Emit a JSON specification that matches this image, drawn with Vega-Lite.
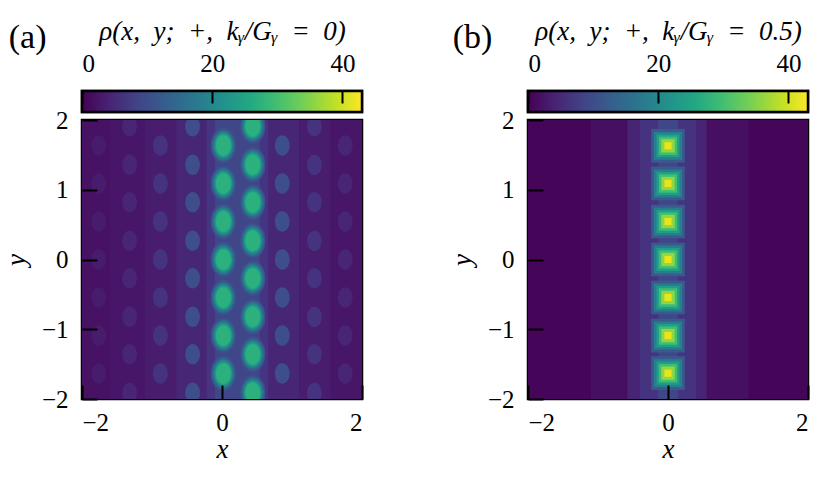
{
  "$schema": "https://vega.github.io/schema/vega-lite/v6.json",
  "background": "white",
  "padding": {"left": 1, "top": 15, "right": 5, "bottom": 5},
  "config": {
    "font": "Liberation Serif",
    "view": {"stroke": "black", "strokeWidth": 2.5},
    "axis": {
      "labelFont": "Liberation Serif",
      "labelFontSize": 25,
      "labelColor": "black",
      "titleFont": "Liberation Serif",
      "titleFontSize": 27,
      "titleFontWeight": "normal",
      "titleFontStyle": "italic",
      "titleColor": "black",
      "grid": false,
      "domain": false,
      "tickColor": "black",
      "tickWidth": 2,
      "format": "d"
    },
    "title": {"font": "Liberation Serif", "fontWeight": "normal", "color": "black"}
  },
  "datasets": {
    "a_bands": [
      {"x0": -2, "x1": 2, "rho": 1.8},
      {"x0": -1.6, "x1": 2, "rho": 2.4},
      {"x0": -1.1, "x1": 1.55, "rho": 3.2},
      {"x0": -0.65, "x1": 1.1, "rho": 4.4},
      {"x0": -0.22, "x1": 0.66, "rho": 6.5},
      {"x0": -0.1, "x1": 0.54, "rho": 9}
    ],
    "a_faint": [
      {"x": -1.76, "y": [-1.635, -1.09, -0.545, 0, 0.545, 1.09, 1.635], "rho": 3.1},
      {"x": -1.32, "y": [-1.91, -1.36, -0.82, -0.27, 0.27, 0.82, 1.36, 1.91], "rho": 4.3},
      {"x": -0.88, "y": [-1.635, -1.09, -0.545, 0, 0.545, 1.09, 1.635], "rho": 6.2},
      {"x": -0.42, "y": [-1.91, -1.36, -0.82, -0.27, 0.27, 0.82, 1.36, 1.91], "rho": 10},
      {"x": 0.86, "y": [-1.635, -1.09, -0.545, 0, 0.545, 1.09, 1.635], "rho": 10},
      {"x": 1.32, "y": [-1.91, -1.36, -0.82, -0.27, 0.27, 0.82, 1.36, 1.91], "rho": 6.2},
      {"x": 1.76, "y": [-1.635, -1.09, -0.545, 0, 0.545, 1.09, 1.635], "rho": 4.3}
    ],
    "a_spots": [
      {"x": 0.02, "y": -1.635, "rho": [10.5, 14, 18, 22, 25, 27.5]},
      {"x": 0.02, "y": -1.09, "rho": [10.5, 14, 18, 22, 25, 27.5]},
      {"x": 0.02, "y": -0.545, "rho": [10.5, 14, 18, 22, 25, 27.5]},
      {"x": 0.02, "y": 0, "rho": [10.5, 14, 18, 22, 25, 27.5]},
      {"x": 0.02, "y": 0.545, "rho": [10.5, 14, 18, 22, 25, 27.5]},
      {"x": 0.02, "y": 1.09, "rho": [10.5, 14, 18, 22, 25, 27.5]},
      {"x": 0.02, "y": 1.635, "rho": [10.5, 14, 18, 22, 25, 27.5]},
      {"x": 0.44, "y": -1.91, "rho": [10.5, 14, 18, 22, 25, 27.5]},
      {"x": 0.44, "y": -1.36, "rho": [10.5, 14, 18, 22, 25, 27.5]},
      {"x": 0.44, "y": -0.82, "rho": [10.5, 14, 18, 22, 25, 27.5]},
      {"x": 0.44, "y": -0.27, "rho": [10.5, 14, 18, 22, 25, 27.5]},
      {"x": 0.44, "y": 0.27, "rho": [10.5, 14, 18, 22, 25, 27.5]},
      {"x": 0.44, "y": 0.82, "rho": [10.5, 14, 18, 22, 25, 27.5]},
      {"x": 0.44, "y": 1.36, "rho": [10.5, 14, 18, 22, 25, 27.5]},
      {"x": 0.44, "y": 1.91, "rho": [10.5, 14, 18, 22, 25, 27.5]}
    ],
    "b_bands": [
      {"x0": -2, "x1": 2, "rho": 0.6},
      {"x0": -1.1, "x1": 1.15, "rho": 1.5},
      {"x0": -0.58, "x1": 0.55, "rho": 4.2},
      {"x0": -0.4, "x1": 0.4, "rho": 6.2},
      {"x0": -0.14, "x1": 0.14, "rho": 9}
    ],
    "b_spots": [
      {"x": 0, "y": -1.63, "rho": [12, 18, 24, 30, 36, 41.5]},
      {"x": 0, "y": -1.09, "rho": [12, 18, 24, 30, 36, 41.5]},
      {"x": 0, "y": -0.545, "rho": [12, 18, 24, 30, 36, 41.5]},
      {"x": 0, "y": 0, "rho": [12, 18, 24, 30, 36, 41.5]},
      {"x": 0, "y": 0.545, "rho": [12, 18, 24, 30, 36, 41.5]},
      {"x": 0, "y": 1.09, "rho": [12, 18, 24, 30, 36, 41.5]},
      {"x": 0, "y": 1.63, "rho": [12, 18, 24, 30, 36, 41.5]}
    ],
    "bar": [{"lo": 0, "hi": 43}]
  },
  "spacing": 82,
  "hconcat": [
    {
      "spacing": 8,
      "bounds": "flush",
      "vconcat": [
        {
          "width": 280,
          "height": 21,
          "title": {"text": "(a)", "anchor": "start", "fontSize": 34, "dx": -72, "dy": 42},
          "data": {"name": "bar"},
          "mark": {
            "type": "rect",
            "stroke": "black",
            "strokeWidth": 2.5,
            "color": {
              "gradient": "linear",
              "stops": [
                {"offset": 0, "color": "#440154"},
                {"offset": 0.1, "color": "#482475"},
                {"offset": 0.2, "color": "#414487"},
                {"offset": 0.3, "color": "#355f8d"},
                {"offset": 0.4, "color": "#2a788e"},
                {"offset": 0.5, "color": "#21918c"},
                {"offset": 0.6, "color": "#22a884"},
                {"offset": 0.7, "color": "#44bf70"},
                {"offset": 0.8, "color": "#7ad151"},
                {"offset": 0.9, "color": "#bddf26"},
                {"offset": 1, "color": "#fde725"}
              ]
            }
          },
          "encoding": {
            "x": {
              "field": "lo",
              "type": "quantitative",
              "scale": {"domain": [0, 43], "nice": false},
              "axis": {
                "orient": "top",
                "zindex": 2,
                "values": [0, 20, 40],
                "offset": -12,
                "tickSize": 12,
                "labelPadding": 15,
                "title": "ρ(x,\u2002y;\u2002+,\u2002kᵧ/Gᵧ\u2002=\u20020)",
                "titleFontSize": 27,
                "titlePadding": 6
              }
            },
            "x2": {"field": "hi"}
          }
        },
        {
          "width": 280,
          "height": 279,
          "layer": [
            {
              "data": {"name": "a_bands"},
              "mark": {"type": "rect"},
              "encoding": {
                "x": {
                  "field": "x0",
                  "type": "quantitative",
                  "scale": {"domain": [-2, 2], "nice": false},
                  "axis": {"zindex": 2, "values": [-2, 0, 2], "offset": -14, "tickSize": 14, "labelPadding": 11, "title": "x", "titlePadding": 1}
                },
                "x2": {"field": "x1"},
                "color": {"field": "rho", "type": "quantitative", "scale": {"scheme": "viridis", "domain": [0, 43]}, "legend": null}
              }
            },
            {
              "data": {"name": "a_faint"},
              "transform": [{"flatten": ["y"]}],
              "mark": {"type": "point", "filled": true, "opacity": 1, "clip": true, "size": 420, "shape": "M0,-1 A0.72,1 0 1,1 0,1 A0.72,1 0 1,1 0,-1 Z"},
              "encoding": {
                "x": {"field": "x", "type": "quantitative"},
                "y": {
                  "field": "y",
                  "type": "quantitative",
                  "scale": {"domain": [-2, 2], "nice": false},
                  "axis": {"zindex": 2, "values": [-2, -1, 0, 1, 2], "offset": -15, "tickSize": 15, "labelPadding": 14, "title": "y", "titlePadding": 11}
                },
                "color": {"field": "rho", "type": "quantitative"}
              }
            },
            {
              "data": {"name": "a_spots"},
              "transform": [{"flatten": ["rho"]}],
              "mark": {"type": "point", "filled": true, "opacity": 1, "clip": true, "shape": "M0,-1 A0.72,1 0 1,1 0,1 A0.72,1 0 1,1 0,-1 Z"},
              "encoding": {
                "x": {"field": "x", "type": "quantitative"},
                "y": {"field": "y", "type": "quantitative"},
                "color": {"field": "rho", "type": "quantitative"},
                "size": {"field": "rho", "type": "quantitative", "scale": {"type": "log", "domain": [10, 28.5], "range": [1296, 0]}, "legend": null},
                "order": {"field": "rho", "type": "quantitative"}
              }
            }
          ]
        }
      ]
    },
    {
      "spacing": 8,
      "bounds": "flush",
      "vconcat": [
        {
          "width": 280,
          "height": 21,
          "title": {"text": "(b)", "anchor": "start", "fontSize": 34, "dx": -74, "dy": 42},
          "data": {"name": "bar"},
          "mark": {
            "type": "rect",
            "stroke": "black",
            "strokeWidth": 2.5,
            "color": {
              "gradient": "linear",
              "stops": [
                {"offset": 0, "color": "#440154"},
                {"offset": 0.1, "color": "#482475"},
                {"offset": 0.2, "color": "#414487"},
                {"offset": 0.3, "color": "#355f8d"},
                {"offset": 0.4, "color": "#2a788e"},
                {"offset": 0.5, "color": "#21918c"},
                {"offset": 0.6, "color": "#22a884"},
                {"offset": 0.7, "color": "#44bf70"},
                {"offset": 0.8, "color": "#7ad151"},
                {"offset": 0.9, "color": "#bddf26"},
                {"offset": 1, "color": "#fde725"}
              ]
            }
          },
          "encoding": {
            "x": {
              "field": "lo",
              "type": "quantitative",
              "scale": {"domain": [0, 43], "nice": false},
              "axis": {
                "orient": "top",
                "zindex": 2,
                "values": [0, 20, 40],
                "offset": -12,
                "tickSize": 12,
                "labelPadding": 15,
                "title": "ρ(x,\u2002y;\u2002+,\u2002kᵧ/Gᵧ\u2002=\u20020.5)",
                "titleFontSize": 27,
                "titlePadding": 6
              }
            },
            "x2": {"field": "hi"}
          }
        },
        {
          "width": 280,
          "height": 279,
          "layer": [
            {
              "data": {"name": "b_bands"},
              "mark": {"type": "rect"},
              "encoding": {
                "x": {
                  "field": "x0",
                  "type": "quantitative",
                  "scale": {"domain": [-2, 2], "nice": false},
                  "axis": {"zindex": 2, "values": [-2, 0, 2], "offset": -14, "tickSize": 14, "labelPadding": 11, "title": "x", "titlePadding": 1}
                },
                "x2": {"field": "x1"},
                "color": {"field": "rho", "type": "quantitative", "scale": {"scheme": "viridis", "domain": [0, 43]}, "legend": null}
              }
            },
            {
              "data": {"name": "b_spots"},
              "transform": [{"flatten": ["rho"]}],
              "mark": {"type": "point", "filled": true, "opacity": 1, "clip": true, "shape": "square"},
              "encoding": {
                "x": {"field": "x", "type": "quantitative"},
                "y": {
                  "field": "y",
                  "type": "quantitative",
                  "scale": {"domain": [-2, 2], "nice": false},
                  "axis": {"zindex": 2, "values": [-2, -1, 0, 1, 2], "offset": -15, "tickSize": 15, "labelPadding": 14, "title": "y", "titlePadding": 11}
                },
                "color": {"field": "rho", "type": "quantitative"},
                "size": {"field": "rho", "type": "quantitative", "scale": {"type": "log", "domain": [10, 44], "range": [900, 0]}, "legend": null},
                "order": {"field": "rho", "type": "quantitative"}
              }
            }
          ]
        }
      ]
    }
  ]
}
